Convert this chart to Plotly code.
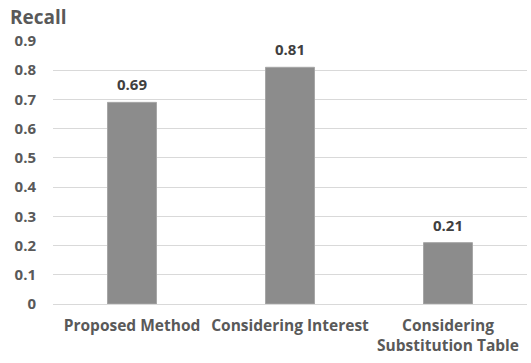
import plotly.graph_objects as go

# Recall per method
methods = ["Proposed Method", "Considering Interest", "Considering<br>Substitution Table"]
recall = [0.69, 0.81, 0.21]
y_ticks = [0, 0.1, 0.2, 0.3, 0.4, 0.5, 0.6, 0.7, 0.8, 0.9]
y_tick_text = ["0", "0.1", "0.2", "0.3", "0.4", "0.5", "0.6", "0.7", "0.8", "0.9"]

FONT = "Open Sans"
TICK_COLOR = "#595959"

fig = go.Figure(
    go.Bar(
        x=methods,
        y=recall,
        marker=dict(color="#8c8c8c", line=dict(color="#a6a6a6", width=1)),
        width=0.31,
        hoverinfo="skip",
    )
)

# value labels above each bar
for m, v in zip(methods, recall):
    fig.add_annotation(
        x=m, y=v, text=f"{v:.2f}", showarrow=False,
        yanchor="bottom", yshift=6,
        font=dict(family=FONT, size=15, color="#404040", weight="bold"),
    )

fig.update_layout(
    width=531, height=363,
    margin=dict(l=53, r=4, t=41, b=59),
    paper_bgcolor="white", plot_bgcolor="white",
    showlegend=False,
    title=dict(
        text="Recall", x=10 / 531, xref="container", xanchor="left",
        y=1 - 17 / 363, yref="container", yanchor="middle",
        font=dict(family=FONT, size=19, color="#595959", weight="bold"),
    ),
    xaxis=dict(
        showgrid=False, showline=False, zeroline=False,
        tickfont=dict(family=FONT, size=15.5, color=TICK_COLOR, weight="bold"),
        ticklabelstandoff=10,
    ),
    yaxis=dict(
        range=[0, 0.9],
        tickvals=y_ticks, ticktext=y_tick_text,
        showgrid=True, gridcolor="#d9d9d9", gridwidth=1,
        zeroline=True, zerolinecolor="#d9d9d9", zerolinewidth=1,
        showline=False,
        tickfont=dict(family=FONT, size=15, color=TICK_COLOR, weight="bold"),
        ticklabelstandoff=16,
    ),
)

fig.write_html("out.html")
